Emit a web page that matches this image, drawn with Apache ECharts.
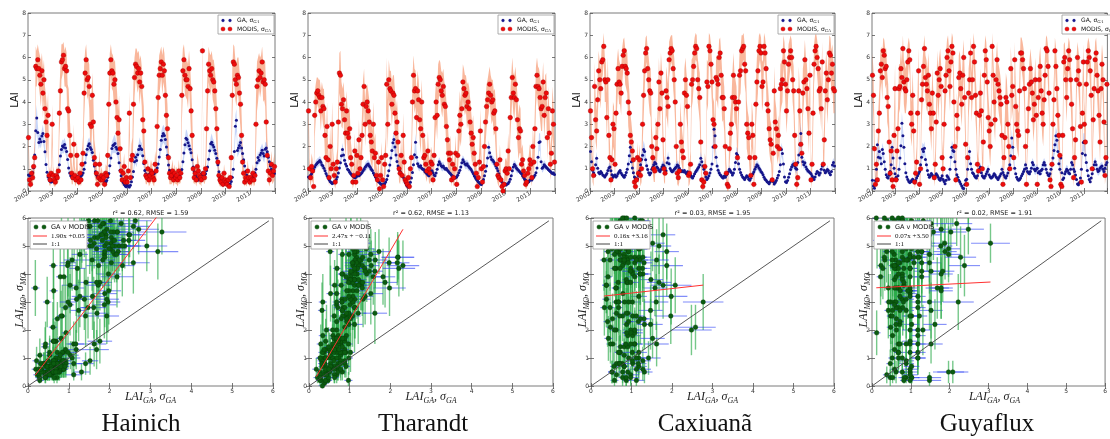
<!DOCTYPE html>
<html>
<head>
<meta charset="utf-8">
<script src="https://cdn.jsdelivr.net/npm/echarts@6/dist/echarts.min.js"></script>
<style>
html,body{margin:0;padding:0;background:#fff;}
#c{width:1110px;height:439px;}
</style>
</head>
<body>
<div id="c"></div>
<script>
// ---- data -------------------------------------------------------------
const siteNames = ['Hainich', 'Tharandt', 'Caxiuanã', 'Guyaflux'];
const yearLabels = [2002, 2003, 2004, 2005, 2006, 2007, 2008, 2009, 2010, 2011];
const samplesPerYear = 24; // semi-monthly composites

// Hainich: MODIS LAI, its std-dev, GA LAI, its std-dev (one row per year)
const haiMod = [
2.4,0.5,0.3,0.8,0.6,1.1,1.5,5.6,5.5,5.9,5.5,5.2,4.8,5.4,4.4,5.0,3.7,3.1,2.5,3.4,0.7,0.5,0.8,3.0,
0.7,0.5,0.4,0.7,0.6,0.9,3.5,4.5,5.8,5.9,6.1,5.5,5.6,5.4,3.7,3.6,2.5,1.6,0.8,0.6,2.1,0.7,0.5,1.6,
0.6,0.4,0.8,0.5,1.2,1.7,4.4,5.3,5.9,5.0,5.1,4.7,3.0,2.9,4.3,3.1,1.5,1.2,0.8,0.3,0.6,1.2,0.5,0.7,
0.5,0.6,0.3,0.8,0.7,1.6,3.9,5.3,5.9,5.4,5.3,4.8,5.0,4.0,3.3,2.6,3.2,1.9,0.9,0.5,0.8,1.1,0.4,0.6,
0.4,0.9,3.5,0.6,1.4,1.6,3.9,5.1,5.7,5.6,5.3,5.5,4.9,5.3,4.7,3.2,2.7,1.3,0.7,0.6,1.0,0.5,0.7,0.9,
0.8,0.6,0.5,1.2,0.9,2.9,4.2,5.2,5.5,5.8,5.2,5.7,5.4,4.3,3.4,2.8,1.5,0.8,0.6,0.7,0.9,0.5,0.8,0.6,
0.7,0.5,0.9,0.6,0.8,4.3,5.4,5.9,5.2,5.0,5.0,4.7,5.5,4.6,3.6,2.5,1.0,0.6,0.8,0.5,1.1,0.9,0.7,0.6,
0.5,6.3,0.8,0.6,1.0,2.8,4.5,5.7,5.4,5.2,5.5,5.0,4.9,4.5,3.7,2.8,1.3,0.7,0.5,0.4,0.6,0.3,0.8,0.5,
0.4,0.3,0.5,0.2,0.6,1.5,4.3,5.8,5.7,5.0,4.8,5.2,5.1,4.4,3.9,2.5,1.3,0.8,0.4,0.6,0.5,0.9,0.6,0.4,
0.6,0.5,0.8,0.5,0.7,3.0,4.7,5.0,5.4,5.1,5.3,5.8,4.9,5.0,4.8,3.1,1.6,0.9,0.5,0.8,1.2,0.7,0.9,1.1];
const haiModSd = [
0.6,0.3,0.2,0.4,0.3,0.5,0.8,0.9,0.8,0.7,0.8,0.9,1.0,0.8,1.1,0.9,1.0,1.2,1.1,1.0,0.4,0.3,0.4,0.9,
0.4,0.3,0.2,0.4,0.3,0.5,1.0,1.1,0.8,0.7,0.6,0.8,0.9,0.8,1.1,1.0,0.9,0.8,0.5,0.3,0.9,0.4,0.3,0.7,
0.3,0.2,0.4,0.3,0.6,0.8,1.2,1.0,0.7,0.9,0.8,1.0,1.1,1.2,1.0,1.1,0.8,0.7,0.4,0.2,0.3,0.6,0.3,0.4,
0.3,0.3,0.2,0.4,0.4,0.8,1.1,0.9,0.7,0.8,0.8,1.0,0.9,1.1,1.2,1.0,1.1,0.9,0.5,0.3,0.4,0.6,0.2,0.3,
0.2,0.5,1.0,0.3,0.7,0.8,1.2,0.9,0.7,0.8,0.9,0.8,1.0,0.8,0.9,1.2,1.1,0.7,0.4,0.3,0.5,0.3,0.4,0.5,
0.4,0.3,0.3,0.6,0.5,1.1,1.2,0.9,0.8,0.7,0.9,0.8,0.8,1.1,1.2,1.1,0.8,0.5,0.3,0.4,0.5,0.3,0.4,0.3,
0.4,0.3,0.5,0.3,0.4,1.2,1.0,0.7,0.9,0.8,0.9,1.0,0.8,1.0,1.2,1.1,0.6,0.3,0.4,0.3,0.6,0.5,0.4,0.3,
0.3,0.5,0.4,0.3,0.5,1.1,1.1,0.8,0.8,0.9,0.8,0.9,1.0,1.0,1.2,1.1,0.7,0.4,0.3,0.2,0.3,0.2,0.4,0.3,
0.2,0.2,0.3,0.1,0.3,0.8,1.2,0.8,0.8,0.9,1.0,0.8,0.9,1.0,1.1,1.0,0.7,0.4,0.2,0.3,0.3,0.5,0.3,0.2,
0.3,0.3,0.4,0.3,0.4,1.2,1.1,1.0,0.8,0.9,0.8,0.7,0.9,0.9,1.0,1.2,0.8,0.5,0.3,0.4,0.6,0.4,0.5,0.6];
const haiGa = [
0.72,0.68,0.71,0.74,0.83,1.04,1.62,2.71,3.28,2.63,2.18,2.34,2.21,2.47,2.58,2.23,1.76,1.19,0.84,0.63,0.52,0.44,0.41,0.47,
0.43,0.48,0.53,0.61,0.69,0.87,1.18,1.57,1.86,2.02,1.97,2.09,1.93,1.78,1.42,1.03,0.81,0.69,0.63,0.58,0.61,0.57,0.62,0.66,
0.63,0.58,0.61,0.67,0.72,0.81,0.98,1.27,1.63,1.88,2.03,2.12,1.96,1.87,1.73,1.38,1.12,0.87,0.72,0.64,0.58,0.53,0.49,0.52,
0.48,0.51,0.43,0.39,0.47,0.62,0.79,1.13,1.48,1.91,2.04,2.08,2.13,1.97,1.88,1.69,1.27,0.93,0.68,0.52,0.38,0.29,0.23,0.19,
0.27,0.21,0.18,0.26,0.42,0.63,0.88,1.31,1.52,1.37,1.63,1.86,2.02,1.91,1.87,1.58,1.24,0.92,0.78,0.71,0.68,0.73,0.77,0.82,
0.79,0.83,0.77,0.84,0.92,1.03,1.21,1.53,1.87,2.28,2.47,2.58,2.49,2.31,1.98,1.61,1.17,0.93,0.81,0.72,0.67,0.63,0.58,0.62,
0.57,0.63,0.61,0.68,0.79,0.97,1.32,1.71,2.08,2.37,2.31,2.17,2.03,1.88,1.72,1.41,1.08,0.87,0.71,0.62,0.53,0.49,0.57,0.68,
0.76,0.82,0.71,0.68,0.77,0.92,1.08,1.43,1.81,2.12,2.19,2.07,1.98,1.83,1.68,1.47,1.18,0.87,0.61,0.42,0.33,0.28,0.31,0.37,
0.48,0.42,0.33,0.29,0.31,0.43,0.62,0.98,1.77,2.91,3.18,1.82,1.93,2.04,2.18,1.93,1.68,1.41,1.12,0.88,0.72,0.63,0.58,0.53,
0.57,0.62,0.63,0.68,0.81,0.98,1.27,1.51,1.38,1.62,1.71,1.83,1.68,1.57,1.88,1.93,1.76,1.52,1.31,1.12,0.98,0.91,0.86,0.79];
const haiGaSd = [
0.1,0.1,0.1,0.1,0.1,0.2,0.3,0.5,0.6,0.4,0.3,0.3,0.3,0.3,0.4,0.3,0.3,0.2,0.1,0.1,0.1,0.1,0.1,0.1,
0.1,0.1,0.1,0.1,0.1,0.2,0.2,0.3,0.3,0.3,0.3,0.3,0.3,0.3,0.2,0.2,0.1,0.1,0.1,0.1,0.1,0.1,0.1,0.1,
0.1,0.1,0.1,0.1,0.1,0.1,0.2,0.2,0.3,0.3,0.3,0.3,0.3,0.3,0.3,0.2,0.2,0.1,0.1,0.1,0.1,0.1,0.1,0.1,
0.1,0.1,0.1,0.1,0.1,0.1,0.1,0.2,0.2,0.3,0.3,0.4,0.4,0.3,0.3,0.3,0.2,0.1,0.1,0.1,0.1,0.1,0.1,0.1,
0.1,0.1,0.1,0.1,0.1,0.1,0.1,0.2,0.3,0.3,0.3,0.3,0.4,0.3,0.3,0.3,0.2,0.1,0.1,0.1,0.1,0.1,0.1,0.1,
0.1,0.1,0.1,0.1,0.1,0.1,0.2,0.2,0.3,0.4,0.4,0.4,0.4,0.3,0.3,0.3,0.2,0.1,0.1,0.1,0.1,0.1,0.1,0.1,
0.1,0.1,0.1,0.1,0.1,0.2,0.2,0.3,0.3,0.4,0.4,0.3,0.3,0.3,0.3,0.2,0.2,0.1,0.1,0.1,0.1,0.1,0.1,0.1,
0.1,0.1,0.1,0.1,0.1,0.1,0.2,0.2,0.3,0.3,0.4,0.3,0.3,0.3,0.3,0.2,0.2,0.1,0.1,0.1,0.1,0.1,0.1,0.1,
0.1,0.1,0.1,0.1,0.1,0.1,0.1,0.2,0.3,0.5,0.5,0.3,0.3,0.3,0.4,0.3,0.3,0.2,0.2,0.1,0.1,0.1,0.1,0.1,
0.1,0.1,0.1,0.1,0.1,0.2,0.2,0.3,0.2,0.3,0.3,0.3,0.3,0.3,0.3,0.3,0.3,0.2,0.2,0.2,0.2,0.1,0.1,0.1];

// Tharandt
const thaMod = [
3.6,1.0,0.6,1.1,0.9,0.2,3.4,4.0,4.4,4.5,4.3,4.2,3.6,4.2,3.8,3.7,2.5,1.5,2.9,1.4,0.6,2.0,1.0,3.0,
1.2,0.7,0.4,1.0,1.3,3.1,5.3,5.2,3.9,3.7,4.1,3.2,2.6,3.6,2.6,2.4,2.8,1.5,1.2,0.4,0.7,1.8,0.4,1.6,
0.8,2.3,1.0,1.5,2.5,3.9,4.7,3.0,3.8,4.0,3.6,3.1,2.5,2.2,1.8,3.0,1.5,1.7,0.7,0.5,1.3,0.1,0.7,1.5,
0.5,0.2,1.2,1.6,4.8,3.0,5.0,4.6,4.5,3.9,4.4,4.3,3.5,2.6,3.1,2.2,1.0,0.8,1.6,0.7,2.5,1.3,0.5,0.4,
0.3,0.6,0.2,1.0,1.5,4.0,5.2,4.5,4.6,3.3,4.5,4.1,3.2,2.8,4.0,2.5,1.5,1.6,1.2,0.9,1.8,1.0,0.8,1.3,
1.2,0.5,1.6,3.3,4.0,3.4,4.8,5.1,5.0,4.5,4.3,4.7,3.9,3.8,2.9,2.3,1.7,1.4,1.7,0.5,1.2,0.6,1.0,1.7,
0.3,1.6,2.7,3.4,3.0,3.7,4.9,4.6,4.3,4.4,3.8,4.0,3.7,3.1,2.6,2.1,2.4,1.7,1.2,0.8,0.2,0.6,1.3,2.7,
1.0,0.4,1.1,2.0,3.1,3.8,4.1,4.4,4.8,4.3,4.0,4.1,3.5,3.6,2.8,1.2,0.7,0.6,1.4,0.5,0.2,0.0,0.3,0.9,
1.0,0.8,1.8,1.0,3.3,4.2,5.1,4.4,4.2,4.8,4.1,3.2,2.4,2.8,2.7,1.2,1.4,0.9,0.7,0.3,0.4,0.8,1.0,1.4,
1.2,0.6,2.0,1.3,2.8,4.7,5.2,4.7,4.6,4.2,3.7,3.8,4.9,3.4,4.2,4.4,2.4,3.7,2.6,1.2,1.7,3.6,3.0,1.3];
const thaModSd = [
0.9,0.5,0.4,0.6,0.5,0.3,1.0,0.8,0.7,0.6,0.7,0.8,0.9,0.7,0.8,0.9,1.0,0.8,1.1,0.7,0.4,0.9,0.5,1.0,
0.6,0.4,0.3,0.5,0.6,1.0,0.9,1.1,1.0,0.9,0.8,1.0,1.1,0.9,1.0,1.1,1.0,0.8,0.6,0.3,0.4,0.8,0.3,0.7,
0.5,0.9,0.6,0.7,1.0,1.1,0.8,1.0,0.9,0.8,0.9,1.0,1.1,1.0,0.9,1.0,0.8,0.9,0.5,0.3,0.6,0.1,0.4,0.7,
0.3,0.2,0.6,0.8,1.2,1.1,0.9,0.8,0.9,1.0,0.8,0.9,1.0,1.1,1.0,1.0,0.6,0.5,0.8,0.4,1.0,0.6,0.3,0.3,
0.2,0.4,0.2,0.6,0.7,1.1,0.9,1.0,0.8,1.1,0.9,0.9,1.0,1.1,1.0,1.0,0.8,0.8,0.6,0.5,0.9,0.6,0.5,0.7,
0.6,0.3,0.8,1.0,1.0,1.1,0.9,0.8,0.8,0.9,1.0,0.8,1.0,0.9,1.1,1.0,0.8,0.7,0.8,0.3,0.6,0.4,0.6,0.8,
0.2,0.8,1.0,1.1,1.0,1.0,0.8,0.9,0.9,0.8,1.0,0.9,1.0,1.1,1.0,0.9,1.0,0.8,0.6,0.5,0.1,0.4,0.7,1.0,
0.6,0.3,0.6,0.9,1.0,1.0,0.9,0.9,0.8,0.9,1.0,0.9,1.0,1.0,1.1,0.7,0.4,0.4,0.7,0.3,0.1,0.1,0.2,0.5,
0.5,0.5,0.8,0.6,1.0,1.0,0.9,0.9,1.0,0.8,0.9,1.1,1.0,1.1,1.0,0.7,0.7,0.5,0.4,0.2,0.3,0.5,0.6,0.7,
0.6,0.4,0.9,0.7,1.0,0.9,0.8,0.9,0.9,1.0,1.0,1.1,0.9,1.0,1.0,0.9,1.0,1.0,1.0,0.7,0.8,1.1,1.0,0.7];
const thaGa = [
0.63,0.58,0.71,0.78,0.88,0.97,1.08,1.17,1.23,1.28,1.31,1.37,1.29,1.18,1.12,1.02,0.91,0.79,0.68,0.59,0.51,0.43,0.38,0.34,
0.37,0.41,0.44,0.52,0.63,0.81,1.03,1.27,1.58,1.87,1.62,1.38,1.21,1.12,0.98,0.93,0.84,0.77,0.72,0.68,0.63,0.59,0.62,0.67,
0.71,0.68,0.73,0.77,0.83,0.91,0.98,1.07,1.12,1.18,1.21,1.13,1.07,0.98,0.92,0.81,0.72,0.63,0.54,0.48,0.42,0.38,0.33,0.29,
0.27,0.31,0.33,0.41,0.52,0.68,0.91,1.17,1.48,1.82,2.17,2.31,1.98,1.62,1.33,1.12,0.98,0.88,0.79,0.71,0.62,0.51,0.38,0.28,
0.21,0.18,0.27,0.39,0.58,0.83,1.18,1.63,2.19,1.52,1.23,1.12,1.08,1.13,1.02,0.98,0.97,0.88,0.83,0.78,0.72,0.68,0.77,0.88,
0.91,0.82,0.72,0.68,0.81,0.98,1.18,1.32,1.22,1.13,1.08,1.12,1.03,0.98,1.01,0.93,0.88,0.82,0.77,0.71,0.67,0.62,0.58,0.61,
0.63,0.71,0.82,0.93,1.08,1.27,1.41,1.32,1.21,1.17,1.22,1.13,1.08,1.02,0.97,0.88,0.79,0.68,0.61,0.53,0.47,0.41,0.37,0.32,
0.29,0.38,0.52,0.68,0.89,1.12,1.48,1.97,1.72,1.53,1.42,1.38,1.31,1.22,1.12,1.02,0.91,0.78,0.63,0.51,0.41,0.33,0.28,0.31,
0.27,0.32,0.34,0.42,0.53,0.69,0.91,1.08,1.19,1.12,1.03,0.98,0.93,0.88,0.82,0.77,0.68,0.61,0.53,0.48,0.43,0.39,0.42,0.48,
0.52,0.49,0.58,0.63,0.71,0.82,1.03,1.52,2.18,2.21,1.32,1.02,1.08,1.18,1.12,1.07,1.02,0.97,0.92,0.88,0.83,0.79,0.81,0.74];
const thaGaSd = [
0.1,0.1,0.1,0.1,0.1,0.1,0.1,0.2,0.2,0.2,0.2,0.2,0.2,0.2,0.1,0.1,0.1,0.1,0.1,0.1,0.1,0.1,0.1,0.1,
0.1,0.1,0.1,0.1,0.1,0.1,0.1,0.2,0.2,0.3,0.2,0.2,0.2,0.1,0.1,0.1,0.1,0.1,0.1,0.1,0.1,0.1,0.1,0.1,
0.1,0.1,0.1,0.1,0.1,0.1,0.1,0.2,0.2,0.2,0.2,0.2,0.2,0.1,0.1,0.1,0.1,0.1,0.1,0.1,0.1,0.1,0.1,0.1,
0.1,0.1,0.1,0.1,0.1,0.1,0.1,0.2,0.2,0.3,0.3,0.4,0.4,0.3,0.2,0.2,0.1,0.1,0.1,0.1,0.1,0.1,0.1,0.1,
0.1,0.1,0.1,0.1,0.1,0.1,0.2,0.3,0.4,0.3,0.2,0.2,0.2,0.1,0.1,0.1,0.1,0.1,0.1,0.1,0.1,0.1,0.1,0.1,
0.1,0.1,0.1,0.1,0.1,0.1,0.2,0.2,0.2,0.2,0.2,0.2,0.1,0.1,0.1,0.1,0.1,0.1,0.1,0.1,0.1,0.1,0.1,0.1,
0.1,0.1,0.1,0.1,0.2,0.2,0.2,0.2,0.2,0.2,0.2,0.2,0.2,0.1,0.1,0.1,0.1,0.1,0.1,0.1,0.1,0.1,0.1,0.1,
0.1,0.1,0.1,0.1,0.1,0.2,0.2,0.3,0.3,0.2,0.2,0.2,0.2,0.2,0.1,0.1,0.1,0.1,0.1,0.1,0.1,0.1,0.1,0.1,
0.1,0.1,0.1,0.1,0.1,0.1,0.2,0.2,0.2,0.2,0.2,0.2,0.1,0.1,0.1,0.1,0.1,0.1,0.1,0.1,0.1,0.1,0.1,0.1,
0.1,0.1,0.1,0.1,0.1,0.1,0.1,0.2,0.4,0.4,0.2,0.2,0.2,0.2,0.2,0.1,0.1,0.1,0.1,0.1,0.1,0.1,0.1,0.1];

// Caxiuanã
const caxMod = [
3.6,2.4,1.0,0.7,4.7,3.2,2.7,4.1,5.4,5.0,4.6,5.8,5.9,6.5,5.0,4.9,3.3,5.0,2.5,1.5,0.5,1.4,3.0,2.8,
1.2,3.5,4.8,5.5,4.9,4.8,4.4,5.6,6.1,6.3,5.6,5.5,5.3,4.0,3.5,2.5,2.2,1.8,1.4,0.4,0.2,0.5,1.5,0.8,
1.4,0.7,1.0,3.0,4.3,5.4,6.2,6.4,5.5,5.0,4.5,4.4,2.0,1.5,1.0,0.9,2.4,1.9,3.0,4.9,3.7,5.3,4.4,2.3,
1.0,0.8,4.5,4.2,3.8,5.9,6.2,6.4,6.3,5.5,5.0,4.0,2.0,0.8,0.6,0.9,3.0,2.2,1.8,1.5,4.4,5.0,4.3,3.8,
0.7,0.8,1.2,4.8,5.0,5.6,6.2,6.5,6.4,5.0,4.6,4.2,2.2,0.5,0.2,0.4,1.1,0.8,4.9,4.7,6.5,6.3,5.7,4.9,
3.2,3.0,2.0,5.1,5.0,4.8,6.0,6.2,5.2,4.2,4.2,3.7,2.0,0.8,0.3,0.2,1.9,2.6,3.0,4.2,5.2,4.2,4.0,3.7,
1.5,4.0,5.2,5.4,6.3,6.4,6.5,5.7,5.4,3.0,2.6,2.4,1.5,0.7,3.0,2.5,0.3,1.5,3.9,4.9,5.4,6.3,6.5,6.2,
4.7,4.9,6.5,6.2,5.5,3.9,3.6,2.8,2.3,2.1,0.5,1.7,4.5,3.1,2.8,2.0,2.5,1.9,4.6,4.8,5.0,6.3,5.8,4.8,
3.6,4.5,5.7,6.0,6.3,6.0,5.0,4.5,2.5,1.2,0.3,0.6,4.5,3.6,2.1,1.7,4.4,4.9,5.9,5.0,4.6,3.7,2.6,5.2,
0.5,1.2,3.5,5.7,6.3,6.5,6.0,5.5,4.5,4.6,3.7,5.8,1.2,2.3,4.5,5.3,4.1,5.0,6.2,6.1,5.3,5.7,4.6,4.5];
const caxModSd = [
1.2,1.0,0.6,0.5,1.1,1.0,0.9,1.0,0.9,0.8,0.9,0.8,0.7,0.6,1.0,0.9,1.1,1.0,0.9,0.7,0.4,0.6,1.0,1.0,
0.6,1.0,1.1,0.9,1.0,0.9,1.0,0.8,0.7,0.6,0.8,0.9,0.9,1.1,1.0,1.0,0.9,0.8,0.7,0.3,0.2,0.4,0.7,0.5,
0.7,0.5,0.6,1.0,1.1,0.9,0.7,0.6,0.9,1.0,1.0,1.1,0.9,0.7,0.6,0.5,0.9,0.8,1.0,1.1,1.0,0.9,1.0,0.9,
0.6,0.5,1.1,1.0,1.0,0.8,0.7,0.6,0.7,0.9,1.0,1.1,0.8,0.5,0.4,0.5,1.0,0.9,0.8,0.7,1.1,1.0,1.0,1.0,
0.5,0.5,0.6,1.1,1.0,0.9,0.7,0.6,0.6,1.0,1.0,1.1,0.9,0.4,0.2,0.3,0.6,0.5,1.0,1.1,0.6,0.7,0.9,1.0,
1.0,1.0,0.9,1.0,1.0,1.1,0.8,0.7,1.0,1.1,1.0,1.0,0.8,0.5,0.3,0.2,0.8,0.9,1.0,1.1,1.0,1.1,1.0,1.0,
0.8,1.1,1.0,1.0,0.7,0.6,0.6,0.9,1.0,1.1,1.0,0.9,0.7,0.5,1.0,0.9,0.3,0.7,1.0,1.1,1.0,0.7,0.6,0.7,
1.1,1.0,0.6,0.7,0.9,1.1,1.0,1.0,0.9,0.9,0.4,0.8,1.1,1.0,0.9,0.8,0.9,0.8,1.1,1.0,1.0,0.7,0.9,1.0,
1.0,1.1,0.9,0.8,0.7,0.8,1.0,1.1,0.9,0.6,0.3,0.4,1.1,1.0,0.8,0.7,1.1,1.0,0.9,1.0,1.1,1.0,0.9,1.0,
0.4,0.6,1.0,0.9,0.7,0.6,0.8,0.9,1.1,1.0,1.0,0.9,0.6,0.9,1.1,1.0,1.1,1.0,0.8,0.8,1.0,0.9,1.1,1.0];
const caxGa = [
1.78,1.31,0.93,0.82,0.71,1.18,1.47,1.02,0.83,0.77,0.88,0.81,0.72,0.68,0.63,0.71,0.79,0.92,1.03,1.08,0.91,0.73,0.62,0.68,
0.72,0.63,0.68,0.79,0.87,0.92,0.81,0.73,0.67,0.62,0.71,0.83,0.98,1.21,1.58,1.97,1.32,1.03,0.82,0.63,0.58,0.52,0.54,0.69,
0.91,1.18,1.42,1.61,1.87,1.78,1.41,1.13,0.97,0.82,0.73,0.81,0.98,1.07,1.18,1.28,1.22,1.08,1.02,0.93,0.88,0.97,1.08,1.17,
1.12,1.03,0.91,1.27,1.48,1.22,1.01,0.92,0.87,0.91,0.98,1.03,1.08,1.17,1.12,1.02,0.93,0.88,0.91,0.86,0.92,0.83,0.78,0.87,
0.82,0.77,0.71,0.63,0.58,0.67,0.78,0.87,0.93,1.01,1.08,1.18,1.47,1.32,1.12,0.98,0.82,0.63,0.52,0.58,0.69,0.81,0.98,1.21,
1.98,2.77,2.48,1.52,1.12,0.93,0.82,0.73,0.68,0.62,0.58,0.67,0.62,0.71,0.78,0.87,0.98,0.91,0.83,0.72,0.81,0.98,1.28,1.68,
1.62,1.22,0.98,0.83,0.72,0.63,0.58,0.52,0.61,0.68,0.63,0.53,0.48,0.57,0.68,0.78,0.87,0.98,1.08,1.18,1.12,1.03,0.97,0.88,
0.82,0.73,0.62,0.53,0.48,0.42,0.38,0.33,0.41,0.48,0.52,0.43,0.32,0.38,0.47,0.58,0.71,0.88,1.18,1.87,1.68,1.21,0.63,0.42,
0.38,0.47,0.62,0.78,0.97,1.08,1.17,1.21,1.12,1.02,0.98,1.28,1.62,2.08,2.58,1.52,1.31,1.18,1.27,1.08,0.98,0.91,0.87,0.82,
0.78,0.68,0.61,0.52,0.63,0.78,0.88,0.83,0.72,0.81,0.98,1.12,1.18,0.93,0.82,0.88,0.97,0.92,0.81,0.73,0.88,1.17,1.28,1.12];
const caxGaSd = [
0.3,0.2,0.1,0.1,0.1,0.2,0.3,0.2,0.1,0.1,0.1,0.1,0.1,0.1,0.1,0.1,0.1,0.1,0.2,0.2,0.1,0.1,0.1,0.1,
0.1,0.1,0.1,0.1,0.1,0.1,0.1,0.1,0.1,0.1,0.1,0.1,0.2,0.2,0.3,0.4,0.2,0.2,0.1,0.1,0.1,0.1,0.1,0.1,
0.2,0.2,0.3,0.3,0.4,0.3,0.3,0.2,0.2,0.1,0.1,0.1,0.2,0.2,0.2,0.2,0.2,0.2,0.2,0.1,0.1,0.2,0.2,0.2,
0.2,0.2,0.1,0.2,0.3,0.2,0.2,0.1,0.1,0.1,0.2,0.2,0.2,0.2,0.2,0.2,0.1,0.1,0.1,0.1,0.1,0.1,0.1,0.1,
0.1,0.1,0.1,0.1,0.1,0.1,0.1,0.1,0.1,0.2,0.2,0.2,0.3,0.2,0.2,0.2,0.1,0.1,0.1,0.1,0.1,0.1,0.2,0.2,
0.4,0.5,0.5,0.3,0.2,0.2,0.1,0.1,0.1,0.1,0.1,0.1,0.1,0.1,0.1,0.1,0.2,0.1,0.1,0.1,0.1,0.2,0.2,0.3,
0.3,0.2,0.2,0.1,0.1,0.1,0.1,0.1,0.1,0.1,0.1,0.1,0.1,0.1,0.1,0.1,0.1,0.2,0.2,0.2,0.2,0.2,0.2,0.1,
0.1,0.1,0.1,0.1,0.1,0.1,0.1,0.1,0.1,0.1,0.1,0.1,0.1,0.1,0.1,0.1,0.1,0.1,0.2,0.3,0.3,0.2,0.1,0.1,
0.1,0.1,0.1,0.1,0.2,0.2,0.2,0.2,0.2,0.2,0.2,0.2,0.3,0.4,0.5,0.3,0.2,0.2,0.2,0.2,0.2,0.1,0.1,0.1,
0.1,0.1,0.1,0.1,0.1,0.1,0.1,0.1,0.1,0.1,0.2,0.2,0.2,0.1,0.1,0.1,0.2,0.1,0.1,0.1,0.1,0.2,0.2,0.2];

// Guyaflux
const guyMod = [
5.2,4.3,1.9,0.3,1.2,0.5,2.7,3.5,5.4,5.7,5.1,6.3,6.1,5.5,5.6,4.2,3.8,2.2,0.8,1.8,0.5,0.2,2.5,4.6,
0.5,1.8,2.8,4.6,4.7,5.5,5.1,6.4,4.9,4.6,4.5,5.0,5.8,6.3,5.9,3.5,3.0,4.3,2.7,0.4,0.8,1.3,3.5,5.4,
0.3,1.0,4.1,4.8,5.6,6.4,5.1,4.8,4.5,5.2,3.9,3.5,2.8,4.4,3.5,0.6,1.2,3.1,5.3,4.3,5.0,5.5,4.7,1.5,
1.0,3.0,4.5,5.2,6.0,6.3,5.4,4.7,5.8,6.5,6.2,4.0,2.0,0.5,3.4,2.8,5.1,5.3,4.6,3.9,5.2,6.0,4.2,2.1,
0.3,1.5,4.4,5.0,6.2,4.2,5.0,6.5,5.8,4.3,3.5,1.2,0.9,3.4,4.4,3.6,1.0,2.2,5.2,6.3,5.9,4.9,3.3,2.7,
2.0,3.0,6.5,5.2,4.0,3.2,5.0,5.9,4.8,4.5,4.2,3.9,2.5,0.3,1.5,2.4,4.2,4.0,3.0,2.0,1.0,5.5,4.3,4.7,
1.5,5.9,3.8,3.0,2.7,2.5,4.5,6.2,6.2,5.9,5.5,4.6,2.0,0.3,2.7,3.7,4.8,5.5,4.9,4.4,3.2,3.9,5.0,3.4,
0.3,4.2,5.0,5.6,4.5,3.5,3.0,4.1,5.2,6.4,6.3,5.6,4.4,0.5,0.2,1.2,3.0,4.1,6.3,5.6,4.6,3.4,2.5,1.6,
0.3,0.2,2.5,5.8,6.0,5.0,4.2,5.5,6.3,5.9,5.0,3.9,2.8,0.6,1.5,2.3,5.0,6.0,5.4,4.8,2.9,0.4,3.5,5.8,
3.0,2.2,4.8,5.8,6.3,6.0,5.4,4.3,1.0,3.2,4.6,5.9,6.2,5.2,4.5,3.4,2.2,4.6,5.7,5.0,3.1,0.7,1.5,4.8];
const guyModSd = [
1.0,1.1,0.8,0.3,0.6,0.4,1.0,1.1,0.9,0.8,1.0,0.6,0.7,0.9,0.8,1.1,1.0,0.9,0.5,0.8,0.4,0.2,0.9,1.1,
0.4,0.8,1.0,1.1,1.0,0.9,0.7,0.6,1.0,1.1,1.0,1.0,0.8,0.6,0.7,1.1,1.0,1.1,1.0,0.3,0.5,0.7,1.1,1.0,
0.2,0.6,1.1,1.0,0.9,0.6,1.0,1.1,1.0,1.0,1.1,1.0,1.0,1.1,1.0,0.4,0.6,1.0,1.0,1.1,1.0,0.9,1.0,0.8,
0.6,1.0,1.1,1.0,0.8,0.7,1.0,1.1,0.8,0.6,0.7,1.1,0.9,0.3,1.0,1.0,1.0,1.0,1.1,1.0,1.0,0.8,1.1,0.9,
0.2,0.7,1.1,1.0,0.7,1.1,1.0,0.6,0.8,1.1,1.0,0.6,0.5,1.0,1.1,1.0,0.5,0.9,1.0,0.7,0.8,1.0,1.1,1.0,
0.9,1.0,0.6,1.0,1.1,1.0,1.0,0.8,1.0,1.1,1.1,1.0,1.0,0.2,0.7,1.0,1.1,1.0,1.0,0.9,0.6,1.0,1.1,1.0,
0.7,0.8,1.1,1.0,1.0,1.0,1.1,0.7,0.7,0.8,0.9,1.1,0.9,0.2,1.0,1.1,1.0,0.9,1.0,1.1,1.0,1.1,1.0,1.1,
0.2,1.1,1.0,0.9,1.1,1.0,1.0,1.1,1.0,0.6,0.6,0.9,1.1,0.3,0.1,0.6,1.0,1.1,0.6,0.9,1.1,1.0,1.0,0.8,
0.2,0.1,1.0,0.8,0.7,1.0,1.1,0.9,0.6,0.8,1.0,1.1,1.0,0.4,0.7,1.0,1.0,0.7,0.9,1.1,1.0,0.3,1.1,0.8,
1.0,0.9,1.1,0.8,0.6,0.7,0.9,1.1,0.6,1.0,1.1,0.8,0.7,1.0,1.1,1.0,0.9,1.1,0.9,1.0,1.1,0.4,0.8,1.1];
const guyGa = [
0.48,0.23,0.12,0.47,0.98,2.08,1.52,1.78,1.48,1.22,1.87,1.68,1.32,0.98,0.73,0.62,0.58,0.71,0.88,1.18,1.97,1.48,1.02,0.78,
0.62,0.53,0.68,0.98,1.48,2.03,3.05,2.48,1.97,1.22,0.82,0.63,0.52,0.43,0.38,0.42,0.48,0.53,0.42,0.38,0.47,0.58,0.68,0.79,
0.88,1.18,1.52,1.88,1.78,1.92,1.42,1.18,0.92,0.73,0.62,0.68,0.79,0.72,0.63,0.58,0.68,0.77,0.71,0.62,0.53,0.48,0.57,0.68,
0.52,0.43,0.33,0.48,0.68,0.62,0.53,0.98,1.52,1.97,1.82,1.78,1.31,0.98,0.73,0.62,0.48,0.41,0.32,0.22,0.13,0.11,0.28,0.48,
0.53,0.98,1.48,1.77,1.22,0.98,0.82,0.77,0.68,0.62,0.58,0.68,0.88,0.98,1.08,0.82,0.68,0.62,0.58,0.67,0.78,0.88,0.98,0.72,
0.63,0.58,0.62,0.68,0.78,0.72,0.63,0.58,0.52,0.61,0.68,0.78,0.98,0.83,0.72,0.63,0.58,0.68,0.81,0.98,1.18,1.58,2.38,1.97,
1.52,1.02,0.78,0.62,0.53,0.48,0.52,0.58,0.68,0.78,0.88,0.98,1.18,1.02,0.88,0.82,0.78,0.88,1.02,1.28,1.18,0.98,0.91,0.98,
1.02,0.82,0.88,0.78,0.92,0.98,1.18,1.28,1.17,0.98,0.82,0.72,0.68,0.78,0.98,1.18,1.48,1.82,2.08,2.48,2.28,1.78,1.22,0.98,
1.48,0.82,0.52,0.58,0.78,0.88,0.98,0.92,0.82,0.78,0.98,1.28,1.18,0.98,0.88,0.72,0.52,0.32,0.28,0.38,0.58,0.98,1.68,2.18,
2.22,1.62,1.28,0.92,0.68,0.52,0.42,0.58,0.78,0.98,1.18,1.32,1.18,0.98,0.88,0.92,1.02,1.08,1.12,0.98,0.88,1.02,1.18,1.28];
const guyGaSd = [
0.1,0.1,0.1,0.1,0.2,0.4,0.3,0.3,0.3,0.2,0.3,0.3,0.2,0.2,0.1,0.1,0.1,0.1,0.2,0.2,0.4,0.3,0.2,0.1,
0.1,0.1,0.1,0.2,0.3,0.4,0.5,0.4,0.3,0.2,0.1,0.1,0.1,0.1,0.1,0.1,0.1,0.1,0.1,0.1,0.1,0.1,0.1,0.1,
0.2,0.2,0.3,0.3,0.3,0.3,0.2,0.2,0.2,0.1,0.1,0.1,0.1,0.1,0.1,0.1,0.1,0.1,0.1,0.1,0.1,0.1,0.1,0.1,
0.1,0.1,0.1,0.1,0.1,0.1,0.1,0.2,0.3,0.3,0.3,0.3,0.2,0.2,0.1,0.1,0.1,0.1,0.1,0.1,0.1,0.1,0.1,0.1,
0.1,0.2,0.3,0.3,0.2,0.2,0.1,0.1,0.1,0.1,0.1,0.1,0.2,0.2,0.2,0.1,0.1,0.1,0.1,0.1,0.1,0.2,0.2,0.1,
0.1,0.1,0.1,0.1,0.1,0.1,0.1,0.1,0.1,0.1,0.1,0.1,0.2,0.1,0.1,0.1,0.1,0.1,0.1,0.2,0.2,0.3,0.4,0.3,
0.3,0.2,0.1,0.1,0.1,0.1,0.1,0.1,0.1,0.1,0.2,0.2,0.2,0.2,0.2,0.1,0.1,0.2,0.2,0.2,0.2,0.2,0.2,0.2,
0.2,0.1,0.2,0.1,0.2,0.2,0.2,0.2,0.2,0.2,0.1,0.1,0.1,0.1,0.2,0.2,0.3,0.3,0.4,0.4,0.4,0.3,0.2,0.2,
0.3,0.1,0.1,0.1,0.1,0.2,0.2,0.2,0.1,0.1,0.2,0.2,0.2,0.2,0.2,0.1,0.1,0.1,0.1,0.1,0.1,0.2,0.3,0.4,
0.4,0.3,0.2,0.2,0.1,0.1,0.1,0.1,0.1,0.2,0.2,0.2,0.2,0.2,0.2,0.2,0.2,0.2,0.2,0.2,0.2,0.2,0.2,0.2];

// linear fit of MODIS against GA, and agreement statistics
const fitSlope = [1.90, 2.47, 0.16, 0.07];
const fitIntercept = [0.05, -0.11, 3.16, 3.50];
const fitR2 = [0.62, 0.62, 0.03, 0.02];
const fitRmse = [1.59, 1.13, 1.95, 1.91];

// ---- layout -----------------------------------------------------------
const TOP_Y = 13, TOP_H = 178, BOT_Y = 218, BOT_H = 168;
const topLeft = [28, 308, 590, 872], topWidth = [247, 247, 245, 247];
const botLeft = [28, 309, 591, 872], botWidth = [245, 244, 243, 245];
const captionX = [141, 423, 705, 987];

const C = {
  modDot: '#ee0c0c', modEdge: '#a00000', modBand: 'rgba(244,112,58,0.5)',
  gaDot: '#16168a', gaBand: 'rgba(95,135,235,0.35)',
  pt: '#0b5c10', ptEdge: '#053a08',
  barX: 'rgba(45,65,245,0.6)', barY: 'rgba(45,170,75,0.65)',
  fit: '#ff3030', one: '#444', frame: '#7a7a7a', tick: '#555', text: '#333'
};
const SANS = 'DejaVu Sans', SERIF = 'Liberation Serif';

const sites = [
  {mod: haiMod, modSd: haiModSd, ga: haiGa, gaSd: haiGaSd},
  {mod: thaMod, modSd: thaModSd, ga: thaGa, gaSd: thaGaSd},
  {mod: caxMod, modSd: caxModSd, ga: caxGa, gaSd: caxGaSd},
  {mod: guyMod, modSd: guyModSd, ga: guyGa, gaSd: guyGaSd}
];
const nSamples = yearLabels.length * samplesPerYear;
const times = Array.from({length: nSamples}, (_, i) => yearLabels[0] + (i + 0.5) / samplesPerYear);
sites.forEach((s, k) => ['mod', 'modSd', 'ga', 'gaSd'].forEach(key => {
  if (s[key].length !== nSamples) throw new Error(siteNames[k] + ' ' + key + ' has ' + s[key].length);
}));

// ---- option building --------------------------------------------------
const grid = [], xAxis = [], yAxis = [], series = [], elements = [];
const tick = {inside: true, length: 3, lineStyle: {color: C.tick, width: 0.8}};
const lbl = {fontSize: 6, color: C.text, fontFamily: SANS, margin: 2};

function axes(list, dim, gridIndex, min, max, labelExtra) {
  const base = {gridIndex, type: 'value', min, max, interval: 1,
    axisLine: {show: false}, axisTick: tick, splitLine: {show: false}};
  list.push(Object.assign({}, base, {position: dim === 'x' ? 'bottom' : 'left',
    axisLabel: Object.assign({}, lbl, labelExtra || {})}));
  list.push(Object.assign({}, base, {position: dim === 'x' ? 'top' : 'right',
    axisLabel: {show: false}}));
}

const mathRich = {
  m: {fontSize: 12, fontStyle: 'italic', fontFamily: SERIF, fill: '#222'},
  s: {fontSize: 8, fontStyle: 'italic', fontFamily: SERIF, fill: '#222',
      verticalAlign: 'bottom', padding: [7, 0, 0, 0]}
};
function mathLabel(x, y, text, rotated) {
  return {type: 'text', z: 11, x, y, rotation: rotated ? Math.PI / 2 : 0,
    style: {text, rich: mathRich, align: 'center', textAlign: 'center',
      verticalAlign: 'middle', textVerticalAlign: 'middle'}};
}

function bandSeries(xi, yi, vals, sds, fill, z) {
  return {
    type: 'custom', xAxisIndex: xi, yAxisIndex: yi, silent: true, clip: true, z,
    encode: {x: 0, y: 1},
    data: times.map((t, i) => [t, vals[i]]),
    renderItem(params, api) {
      if (params.dataIndex !== 0) return null;
      const up = [], lo = [];
      for (let i = 0; i < times.length; i++) {
        up.push(api.coord([times[i], vals[i] + sds[i]]));
        lo.push(api.coord([times[i], Math.max(0, vals[i] - sds[i])]));
      }
      return {type: 'polygon', shape: {points: up.concat(lo.reverse())}, style: {fill}};
    }
  };
}

function fmtFit(a, b) {
  return b < 0 ? a.toFixed(2) + 'x + \u2212' + Math.abs(b).toFixed(2)
               : a.toFixed(2) + 'x +' + b.toFixed(2);
}

sites.forEach((s, k) => {
  const gTop = 2 * k, gBot = 2 * k + 1;
  const xi = 4 * k, yi = 4 * k;
  grid.push({left: topLeft[k], top: TOP_Y, width: topWidth[k], height: TOP_H,
    show: true, borderColor: C.frame, borderWidth: 1, backgroundColor: '#fff'});
  grid.push({left: botLeft[k], top: BOT_Y, width: botWidth[k], height: BOT_H,
    show: true, borderColor: C.frame, borderWidth: 1, backgroundColor: '#fff'});

  // time-series panel axes
  axes(xAxis, 'x', gTop, yearLabels[0], yearLabels[0] + yearLabels.length,
    {rotate: 30, formatter: v => (v < yearLabels[0] + yearLabels.length ? String(v) : '')});
  axes(yAxis, 'y', gTop, 0, 8);
  // scatter panel axes
  axes(xAxis, 'x', gBot, 0, 6);
  axes(yAxis, 'y', gBot, 0, 6);

  series.push(bandSeries(xi, yi, s.mod, s.modSd, C.modBand, 1));
  series.push(bandSeries(xi, yi, s.ga, s.gaSd, C.gaBand, 2));
  series.push({type: 'scatter', xAxisIndex: xi, yAxisIndex: yi, silent: true, z: 3,
    symbolSize: 3, itemStyle: {color: C.gaDot, opacity: 1},
    data: times.map((t, i) => [t, s.ga[i]])});
  series.push({type: 'scatter', xAxisIndex: xi, yAxisIndex: yi, silent: true, z: 4,
    symbolSize: 4.6, itemStyle: {color: C.modDot, borderColor: C.modEdge, borderWidth: 0.4, opacity: 1},
    data: times.map((t, i) => [t, s.mod[i]])});

  // GA vs MODIS with error bars
  const pairs = s.ga.map((g, i) => [g, s.mod[i], s.gaSd[i], s.modSd[i]]);
  series.push({type: 'custom', xAxisIndex: xi + 2, yAxisIndex: yi + 2, silent: true, clip: true, z: 2,
    encode: {x: 0, y: 1}, data: pairs,
    renderItem(params, api) {
      const x = api.value(0), y = api.value(1), sx = api.value(2), sy = api.value(3);
      const h0 = api.coord([x - sx, y]), h1 = api.coord([x + sx, y]);
      const v0 = api.coord([x, y - sy]), v1 = api.coord([x, y + sy]);
      return {type: 'group', children: [
        {type: 'line', shape: {x1: h0[0], y1: h0[1], x2: h1[0], y2: h1[1]},
         style: {stroke: C.barX, lineWidth: 1.1}},
        {type: 'line', shape: {x1: v0[0], y1: v0[1], x2: v1[0], y2: v1[1]},
         style: {stroke: C.barY, lineWidth: 1.4}}
      ]};
    }});
  series.push({type: 'scatter', xAxisIndex: xi + 2, yAxisIndex: yi + 2, silent: true, z: 3,
    symbolSize: 4.6, itemStyle: {color: C.pt, borderColor: C.ptEdge, borderWidth: 0.4, opacity: 1},
    data: pairs.map(p => [p[0], p[1]])});
  const gMin = Math.min(...s.ga), gMax = Math.max(...s.ga);
  series.push({type: 'line', xAxisIndex: xi + 2, yAxisIndex: yi + 2, silent: true, z: 4,
    symbol: 'none', lineStyle: {color: C.fit, width: 1},
    data: [[gMin, fitSlope[k] * gMin + fitIntercept[k]], [gMax, fitSlope[k] * gMax + fitIntercept[k]]]});
  series.push({type: 'line', xAxisIndex: xi + 2, yAxisIndex: yi + 2, silent: true, z: 4,
    symbol: 'none', lineStyle: {color: C.one, width: 0.9},
    data: [[0, 0], [5.9, 5.9]]});

  // axis titles
  elements.push({type: 'text', z: 11, x: topLeft[k] - 13, y: TOP_Y + TOP_H / 2 - 2, rotation: Math.PI / 2,
    style: {text: 'LAI', fontFamily: SANS, fontSize: 10, fill: '#111',
      align: 'center', textAlign: 'center', verticalAlign: 'middle', textVerticalAlign: 'middle'}});
  elements.push(mathLabel(botLeft[k] + botWidth[k] / 2, 397, '{m|LAI}{s|GA}{m|, σ}{s|GA}', false));
  elements.push(mathLabel(botLeft[k] - 8, BOT_Y + BOT_H / 2 - 2, '{m|LAI}{s|MO}{m|, σ}{s|MO}', true));

  // legend of the time-series panel
  const tr = topLeft[k] + topWidth[k];
  const lx = tr - 57, ly = TOP_Y + 2;
  elements.push({type: 'rect', z: 10, shape: {x: lx, y: ly, width: 56, height: 19},
    style: {fill: '#fff', stroke: '#999', lineWidth: 0.8}});
  [[C.gaDot, 1.4, null, ly + 5.5, 'GA, σ'], [C.modDot, 2.1, C.modEdge, ly + 14, 'MODIS, σ']].forEach(r => {
    [lx + 5, lx + 12].forEach(cx => elements.push({type: 'circle', z: 11,
      shape: {cx, cy: r[3], r: r[1]}, style: {fill: r[0], stroke: r[2] || r[0], lineWidth: 0.3}}));
    elements.push({type: 'text', z: 11, x: lx + 19, y: r[3],
      style: {text: '{a|' + r[4] + '}{b|GA}', fill: '#111', verticalAlign: 'middle', textVerticalAlign: 'middle',
        rich: {a: {fontSize: 6, fontFamily: SANS, fill: '#111'},
               b: {fontSize: 4.5, fontStyle: 'italic', fontFamily: SERIF, fill: '#111',
                   verticalAlign: 'bottom', padding: [3, 0, 0, 0]}}}});
  });

  // legend of the scatter panel
  const bx = botLeft[k] + 2, by = BOT_Y + 3;
  elements.push({type: 'rect', z: 10, shape: {x: bx, y: by, width: 57, height: 28},
    style: {fill: '#fff', stroke: '#999', lineWidth: 0.8}});
  [bx + 6, bx + 14].forEach(cx => elements.push({type: 'circle', z: 11,
    shape: {cx, cy: by + 6, r: 2.1}, style: {fill: C.pt, stroke: C.ptEdge, lineWidth: 0.4}}));
  elements.push({type: 'line', z: 11, shape: {x1: bx + 3, y1: by + 15, x2: bx + 17, y2: by + 15},
    style: {stroke: C.fit, lineWidth: 1}});
  elements.push({type: 'line', z: 11, shape: {x1: bx + 3, y1: by + 23, x2: bx + 17, y2: by + 23},
    style: {stroke: C.one, lineWidth: 1}});
  const rowTxt = [['GA v MODIS', SANS, 6.5, by + 6], [fmtFit(fitSlope[k], fitIntercept[k]), SERIF, 7, by + 15], ['1:1', SERIF, 7, by + 23]];
  rowTxt.forEach(r => elements.push({type: 'text', z: 11, x: bx + 21, y: r[3],
    style: {text: r[0], fontFamily: r[1], fontSize: r[2], fill: '#111',
      verticalAlign: 'middle', textVerticalAlign: 'middle'}}));

  // statistics above the scatter panel
  elements.push({type: 'text', z: 11, x: botLeft[k] + botWidth[k] / 2, y: BOT_Y - 1,
    style: {text: 'r² = ' + fitR2[k].toFixed(2) + ', RMSE = ' + fitRmse[k].toFixed(2),
      fontFamily: SANS, fontSize: 6.5, fill: '#222',
      align: 'center', textAlign: 'center', verticalAlign: 'bottom', textVerticalAlign: 'bottom'}});

  // site caption
  elements.push({type: 'text', z: 11, x: captionX[k], y: 424,
    style: {text: siteNames[k], fontFamily: SERIF, fontSize: 25, fill: '#111',
      align: 'center', textAlign: 'center', verticalAlign: 'middle', textVerticalAlign: 'middle'}});
});

const chart = echarts.init(document.getElementById('c'), null, {renderer: 'canvas'});
chart.setOption({
  animation: false,
  backgroundColor: '#fff',
  grid, xAxis, yAxis, series,
  graphic: {elements}
});
</script>
</body>
</html>
